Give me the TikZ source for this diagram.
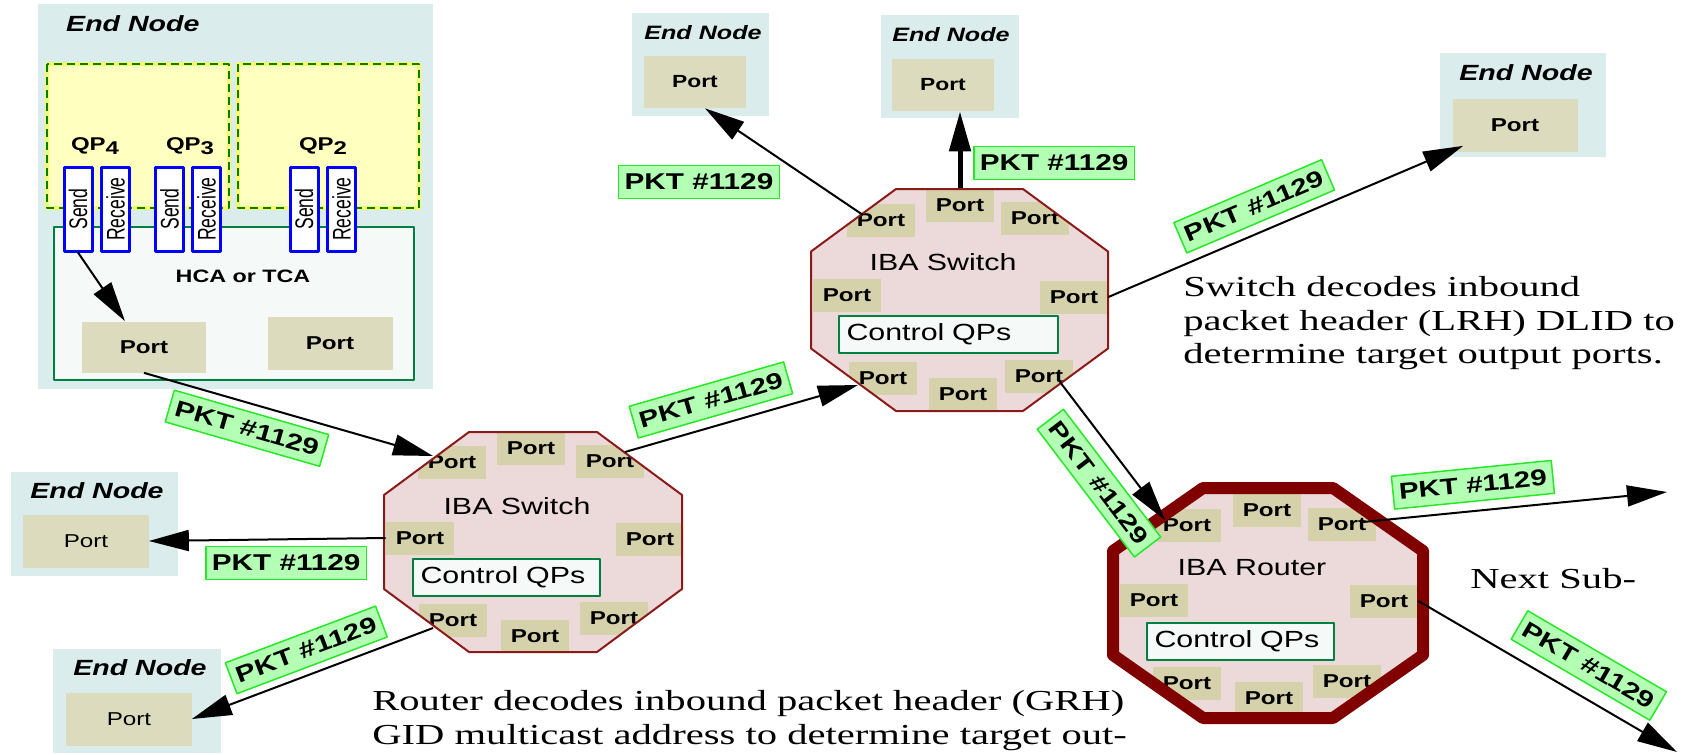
\documentclass[tikz,border=0pt]{standalone}
\usepackage{fontspec}
\setmainfont{Liberation Serif}[FakeStretch=1.4]
\setsansfont{Liberation Sans}[FakeStretch=1.3]
\newfontfamily\narrowsf{Liberation Sans}[FakeStretch=0.69]
\usetikzlibrary{arrows.meta,calc}

\definecolor{endblue}{RGB}{218,236,236}
\definecolor{entan}{RGB}{221,219,190}
\definecolor{swtan}{RGB}{213,209,170}
\definecolor{octpink}{RGB}{236,217,218}
\definecolor{swred}{RGB}{139,26,26}
\definecolor{rtred}{RGB}{128,0,0}
\definecolor{qpfill}{RGB}{255,255,192}
\definecolor{qpedge}{RGB}{250,250,110}
\definecolor{dkgreen}{RGB}{0,128,0}
\definecolor{hcagreen}{RGB}{0,128,64}
\definecolor{hcafill}{RGB}{245,250,249}
\definecolor{qblue}{RGB}{0,0,255}
\definecolor{pktgreen}{RGB}{179,255,179}
\definecolor{pktedge}{RGB}{40,230,40}

% centre x, centre y, half width, half height, half top edge, half side edge
\newcommand{\octagon}[6]{({#1-#5},{#2-#4}) -- ({#1+#5},{#2-#4}) -- ({#1+#3},{#2-#6}) -- ({#1+#3},{#2+#6}) -- ({#1+#5},{#2+#4}) -- ({#1-#5},{#2+#4}) -- ({#1-#3},{#2+#6}) -- ({#1-#3},{#2-#6}) -- cycle}

\begin{document}
\begin{tikzpicture}[x=0.2mm,y=-0.2mm,>={Triangle[length=8mm,width=4.2mm]},line join=round,
    swport/.style={fill=swtan,inner sep=0,minimum width=13.6mm,minimum height=6.6mm,font=\sffamily\bfseries\fontsize{10.6}{12}\selectfont},
    enport/.style={fill=entan,inner sep=0,minimum width=25mm,minimum height=10.6mm,font=\sffamily\bfseries\fontsize{10.6}{12}\selectfont},
    smallport/.style={enport,minimum width=20.4mm,minimum height=10.4mm,font=\sffamily\bfseries\fontsize{10}{12}\selectfont},
    entitle/.style={font=\sffamily\bfseries\itshape\fontsize{12.5}{14}\selectfont},
    smalltitle/.style={font=\sffamily\bfseries\itshape\fontsize{11}{13}\selectfont},
    devname/.style={font=\sffamily\fontsize{13.3}{15}\selectfont},
    ctrl/.style={draw=hcagreen,fill=hcafill,line width=0.4mm,align=left,inner xsep=1.6mm,inner ysep=0,minimum height=7.4mm,font=\sffamily\fontsize{13.3}{15}\selectfont},
    qbox/.style={draw=qblue,fill=white,line width=0.6mm,rotate=90,inner sep=0,minimum width=16.8mm,minimum height=5.6mm,font=\narrowsf\fontsize{14.5}{16}\selectfont},
    qplabel/.style={font=\sffamily\bfseries\fontsize{10.5}{12}\selectfont},
    pkt/.style={draw=pktedge,fill=pktgreen,line width=0.3mm,inner xsep=1.2mm,inner ysep=0,minimum height=6.6mm,font=\sffamily\bfseries\fontsize{13}{15}\selectfont},
    pktline/.style={->,line width=0.4mm},
    note/.style={font=\rmfamily\fontsize{16.5}{19.1}\selectfont,align=left,inner sep=0}]

\useasboundingbox (0,0) rectangle (1689,754);

% end node with the channel adapter
\fill[endblue] (38,4) rectangle (433,389);
\node[entitle,anchor=west] at (60,24) {End Node};
\foreach \a/\b in {47/229,238/419}{
  \fill[qpfill] (\a,64) rectangle (\b,208);
  \draw[qpedge,line width=0.7mm] (\a,64) rectangle (\b,208);
  \draw[dkgreen,line width=0.4mm,dash pattern=on 1.6mm off 1mm] (\a,64) rectangle (\b,208);
}
\node[qplabel] at (95,146) {QP\raisebox{-0.45ex}{4}};
\node[qplabel] at (190,146) {QP\raisebox{-0.45ex}{3}};
\node[qplabel] at (323,146) {QP\raisebox{-0.45ex}{2}};
\filldraw[fill=hcafill,draw=hcagreen,line width=0.4mm] (54,227) rectangle (414,380);
\node[font=\sffamily\bfseries\fontsize{10.2}{12}\selectfont] at (243,276) {HCA or TCA};
\node[enport,minimum width=24.8mm,minimum height=10.2mm] (hca-p1) at (144,347) {Port};
\node[enport] (hca-p2) at (330,343) {Port};
\foreach \n/\t/\x in {s4/Send/78,r4/Receive/115.5,s3/Send/169.5,r3/Receive/206.5,s2/Send/304,r2/Receive/341.5}
  \node[qbox] (\n) at (\x,209) {\t};

% other end nodes
\fill[endblue] (11,472) rectangle (178,576);
\node[entitle] at (97,491) {End Node};
\node[enport,font=\sffamily\fontsize{10.6}{12}\selectfont] (enl-p) at (86,541) {Port};
\fill[endblue] (53,649) rectangle (221,753);
\node[entitle] at (140,668) {End Node};
\node[enport,font=\sffamily\fontsize{10.6}{12}\selectfont] (enb-p) at (129,719) {Port};
\fill[endblue] (632,13) rectangle (769,116);
\node[smalltitle] at (703,33) {End Node};
\node[smallport] (ent1-p) at (695,82) {Port};
\fill[endblue] (881,15) rectangle (1019,118);
\node[smalltitle] at (951,35) {End Node};
\node[smallport] (ent2-p) at (943,85) {Port};
\fill[endblue] (1440,53) rectangle (1606,157);
\node[entitle] at (1526,73) {End Node};
\node[enport] (enr-p) at (1515,125) {Port};

% left switch
\fill[octpink] \octagon{533}{542}{149}{110}{64}{47};
\begin{scope}
  \clip \octagon{533}{542}{149}{110}{64}{47};
  \foreach \n/\x/\y in {t/531/448,tl/452/462,tr/610/461,l/420/538,r/650/539,bl/453/620,b/535/636,br/614/618}
    \node[swport] (swa-\n) at (\x,\y) {Port};
\end{scope}
\draw[swred,line width=0.4mm] \octagon{533}{542}{149}{110}{64}{47};
\node[devname] at (517,506) {IBA Switch};
\node[ctrl,text width=34.2mm] at (506,577) {Control QPs};

% top switch
\fill[octpink] \octagon{959.5}{300}{148.5}{111}{63.5}{48.5};
\begin{scope}
  \clip \octagon{959.5}{300}{148.5}{111}{63.5}{48.5};
  \foreach \n/\x/\y in {t/960/205,tl/881/220,tr/1035/218,l/847/295,r/1074/297,bl/883/378,b/963/394,br/1039/376}
    \node[swport] (swb-\n) at (\x,\y) {Port};
\end{scope}
\draw[swred,line width=0.4mm] \octagon{959.5}{300}{148.5}{111}{63.5}{48.5};
\node[devname] at (943,262) {IBA Switch};
\node[ctrl,text width=40.6mm] at (948,334) {Control QPs};

% router
\fill[octpink] \octagon{1268}{603}{155}{115}{65}{52};
\begin{scope}
  \clip \octagon{1268}{603}{155}{115}{65}{52};
  \foreach \n/\x/\y in {t/1267/510,tl/1187/525,tr/1342/524,l/1154/600,r/1384/601,bl/1187/683,b/1269/698,br/1347/681}
    \node[swport] (rt-\n) at (\x,\y) {Port};
\end{scope}
\draw[rtred,line width=2.4mm] \octagon{1268}{603}{155}{115}{65}{52};
\node[devname] at (1252,568) {IBA Router};
\node[ctrl,text width=34.2mm] at (1240,641) {Control QPs};

% packets
\coordinate (nextup) at (1667,492);
\coordinate (nextdown) at (1677,752);
\draw[pktline] (s4.west) -- ($(hca-p1.north)+(-19,0)$);
\draw[pktline] (hca-p1.south) -- node[pkt,sloped,pos=0.38,below=1.5mm] {PKT \#1129} ($(swa-tl)+(-19,-6)$);
\draw[pktline] (swa-l.west) -- node[pkt,pos=0.42,below=1.3mm] {PKT \#1129} (enl-p.east);
\draw[pktline] ($(swa-bl)+(-20,8)$) -- node[pkt,sloped,pos=0.49,above=1.4mm] {PKT \#1129} (enb-p.east);
\draw[pktline] ($(swa-tr)+(15,-9)$) -- node[pkt,sloped,pos=0.4,above=1.8mm] {PKT \#1129} ($(swb-bl)+(-25,7)$);
\draw[pktline] ($(swb-tl)+(-18,-5)$) -- node[pkt,pos=0.31,left=6.8mm] {PKT \#1129} ($(ent1-p.south)+(10,0)$);
\draw[pktline,line width=1mm] (swb-t.north) -- node[pkt,pos=0.33,right=2.6mm] {PKT \#1129} (swb-t.north |- ent2-p.south);
\draw[pktline] (swb-r.east) -- node[pkt,sloped,pos=0.44,above=1.8mm] {PKT \#1129} ($(enr-p.south west)+(11,-6)$);
\draw[pktline] ($(swb-br)+(21,6)$) -- node[pkt,sloped,pos=0.6,below=2.6mm] {PKT \#1129} ($(rt-tl)+(-22,-5)$);
\draw[pktline] ($(rt-tr)+(21,-2)$) -- node[pkt,sloped,pos=0.37,above=1.8mm] {PKT \#1129} (nextup);
\draw[pktline] (rt-r.east) -- node[pkt,sloped,pos=0.6,above=2.6mm] {PKT \#1129} (nextdown);

% notes
\node[note,anchor=north west] at (1183,276) {Switch decodes inbound\\packet header (LRH) DLID to\\determine target output ports.};
\node[note,anchor=north west] at (372,690) {Router decodes inbound packet header (GRH)\\GID multicast address to determine target out-};
\node[note,anchor=base west] at (1470,588) {Next Sub-};
\end{tikzpicture}
\end{document}
